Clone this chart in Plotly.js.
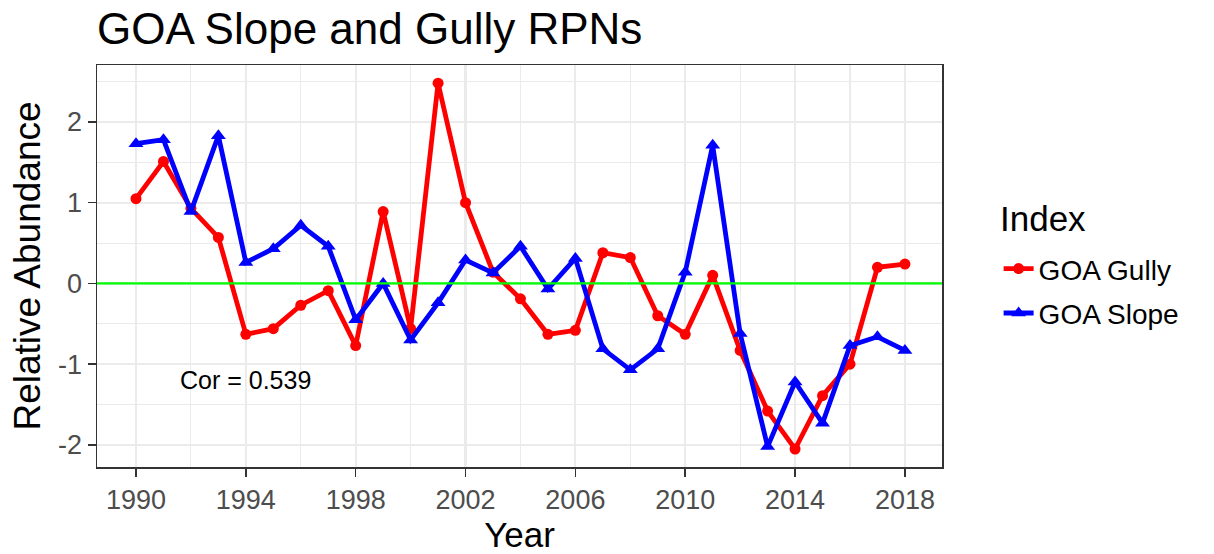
<!DOCTYPE html>
<html>
<head>
<meta charset="utf-8">
<script src="https://cdn.plot.ly/plotly-3.0.1.min.js"></script>
<style>html,body{margin:0;padding:0;background:#fff;}#chart{width:1214px;height:554px;}</style>
</head>
<body>
<div id="chart"></div>
<script>
const years = [1990,1991,1992,1993,1994,1995,1996,1997,1998,1999,2000,2001,2002,2003,2004,2005,2006,2007,2008,2009,2010,2011,2012,2013,2014,2015,2016,2017,2018];
const gully = [1.05,1.51,0.93,0.57,-0.63,-0.56,-0.27,-0.09,-0.77,0.89,-0.56,2.48,1.00,0.14,-0.19,-0.63,-0.58,0.38,0.32,-0.40,-0.63,0.10,-0.83,-1.58,-2.05,-1.39,-1.00,0.20,0.24];
const slope = [1.73,1.78,0.89,1.83,0.26,0.43,0.72,0.46,-0.45,0.00,-0.70,-0.24,0.29,0.13,0.46,-0.07,0.31,-0.81,-1.07,-0.81,0.14,1.71,-0.62,-2.02,-1.22,-1.73,-0.77,-0.66,-0.83];
const seriesNames = ["GOA Gully","GOA Slope"];
const legendTitle = "Index";
const yTickVals = [-2,-1,0,1,2];
const yTickText = ["-2","-1","0","1","2"];
const xTickVals = [1990,1994,1998,2002,2006,2010,2014,2018];
const xTickText = ["1990","1994","1998","2002","2006","2010","2014","2018"];
const corLabel = "Cor = 0.539";
const refLine = 0;

const font = "Liberation Sans, Arial, sans-serif";

const traces = [
  {x: years, y: gully, name: seriesNames[0], legendgroup: "g", type: "scatter", mode: "lines+markers",
   line: {color: "#FF0000", width: 4.8}, marker: {color: "#FF0000", size: 11, symbol: "circle"}},
  {x: years, y: slope, name: seriesNames[1], legendgroup: "s", type: "scatter", mode: "lines+markers",
   line: {color: "#0000FF", width: 4.8}, marker: {color: "#0000FF", size: 13, symbol: "triangle-up"}}
];

const axisCommon = {
  showline: true, mirror: true, linecolor: "#333333", linewidth: 1.5,
  ticks: "outside", ticklen: 8, tickwidth: 1.5, tickcolor: "#333333",
  showgrid: true, gridcolor: "#EBEBEB", gridwidth: 2.2,
  zeroline: false,
  tickfont: {family: font, size: 27, color: "#4D4D4D"}
};

const layout = {
  width: 1214, height: 554,
  paper_bgcolor: "#FFFFFF", plot_bgcolor: "#FFFFFF",
  margin: {l: 97, r: 272, t: 65, b: 87},
  font: {family: font, color: "#000000"},
  title: {text: "GOA Slope and Gully RPNs", font: {family: font, size: 44, color: "#000000"},
          xref: "paper", x: 0, xanchor: "left", yref: "container", y: 1 - 29/554, yanchor: "middle"},
  xaxis: Object.assign({}, axisCommon, {
    range: [1988.58, 2019.35], tickmode: "array", tickvals: xTickVals, ticktext: xTickText,
    minor: {dtick: 2, tick0: 1990, showgrid: true, gridcolor: "#EBEBEB", gridwidth: 1.1, ticks: ""},
    title: {text: "Year", font: {family: font, size: 35, color: "#000000"}, standoff: 8}
  }),
  yaxis: Object.assign({}, axisCommon, {
    range: [-2.273, 2.705], tickmode: "array", tickvals: yTickVals, ticktext: yTickText,
    minor: {dtick: 0.5, tick0: 0, showgrid: true, gridcolor: "#EBEBEB", gridwidth: 1.1, ticks: ""},
    title: {text: "Relative Abundance", font: {family: font, size: 37, color: "#000000"}, standoff: 6}
  }),
  shapes: [{type: "line", xref: "paper", x0: 0, x1: 1, yref: "y", y0: refLine, y1: refLine,
            line: {color: "#00FF00", width: 2.2}, layer: "above"}],
  annotations: [
    {x: 1994, y: -1.2, xref: "x", yref: "y", text: corLabel, showarrow: false,
     font: {family: font, size: 25, color: "#000000"}, xanchor: "center", yanchor: "middle"},
    {x: 1.0665, y: 0.619, xref: "paper", yref: "paper", text: legendTitle, showarrow: false,
     font: {family: font, size: 35, color: "#000000"}, xanchor: "left", yanchor: "middle"}
  ],
  showlegend: true,
  legend: {x: 1.067, xanchor: "left", y: 0.555, yanchor: "top",
           font: {family: font, size: 28, color: "#000000"}, bgcolor: "rgba(0,0,0,0)",
           tracegroupgap: 5, itemwidth: 30}
};

Plotly.newPlot("chart", traces, layout, {displayModeBar: false, staticPlot: true});
</script>
</body>
</html>
